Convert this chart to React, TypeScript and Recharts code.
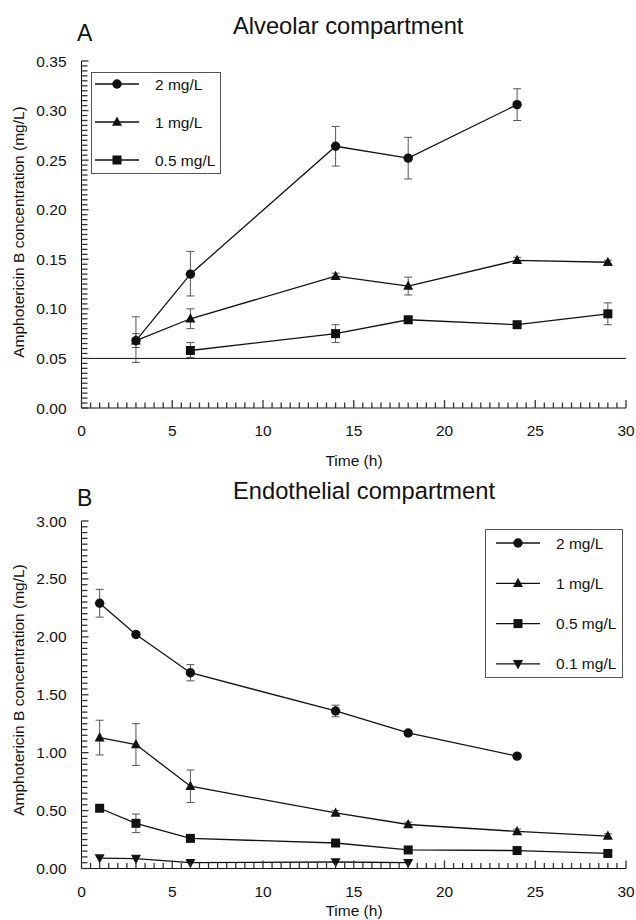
import React from 'react';
import { LineChart, Line, XAxis, YAxis, ErrorBar, ReferenceLine, Legend } from 'recharts';

const FONT = '"Liberation Sans", Arial, Helvetica, sans-serif';

// ---------- Panel A : Alveolar compartment ----------
const alvTimes2 = [3, 6, 14, 18, 24];
const alv2 = [0.068, 0.135, 0.264, 0.252, 0.306];
const alv2Lo = [0.022, 0.022, 0.020, 0.021, 0.016];
const alv2Hi = [0.024, 0.023, 0.020, 0.021, 0.016];

const alvTimes1 = [3, 6, 14, 18, 24, 29];
const alv1 = [0.068, 0.090, 0.133, 0.123, 0.149, 0.147];
const alv1Lo = [0.007, 0.010, 0.003, 0.009, 0.003, 0.002];
const alv1Hi = [0.007, 0.010, 0.003, 0.009, 0.003, 0.002];

const alvTimes05 = [6, 14, 18, 24, 29];
const alv05 = [0.058, 0.075, 0.089, 0.084, 0.095];
const alv05Lo = [0.007, 0.009, 0.003, 0.003, 0.011];
const alv05Hi = [0.008, 0.009, 0.003, 0.003, 0.011];

const alvLimit = 0.05;

// ---------- Panel B : Endothelial compartment ----------
const endTimes2 = [1, 3, 6, 14, 18, 24];
const end2 = [2.29, 2.02, 1.69, 1.36, 1.17, 0.97];
const end2Err = [0.12, 0.02, 0.07, 0.05, 0.02, 0.02];

const endTimes1 = [1, 3, 6, 14, 18, 24, 29];
const end1 = [1.13, 1.07, 0.71, 0.48, 0.38, 0.32, 0.28];
const end1Err = [0.15, 0.18, 0.14, 0.02, 0.02, 0.02, 0.02];

const endTimes05 = [1, 3, 6, 14, 18, 24, 29];
const end05 = [0.52, 0.39, 0.26, 0.22, 0.16, 0.155, 0.13];
const end05Err = [0.02, 0.08, 0.02, 0.02, 0.02, 0.02, 0.02];

const endTimes01 = [1, 3, 6, 14, 18];
const end01 = [0.09, 0.085, 0.05, 0.056, 0.05];

// ---------- Axes ----------
const xMajorTicks = [0, 5, 10, 15, 20, 25, 30];
const xMinorStep = 0.5;
const alvYMajorTicks = [0, 0.05, 0.1, 0.15, 0.2, 0.25, 0.3, 0.35];
const alvYMinorStep = 0.005;
const endYMajorTicks = [0, 0.5, 1.0, 1.5, 2.0, 2.5, 3.0];
const endYMinorStep = 0.05;

const seriesNamesA = ['2 mg/L', '1 mg/L', '0.5 mg/L'];
const seriesNamesB = ['2 mg/L', '1 mg/L', '0.5 mg/L', '0.1 mg/L'];
const shapeByName: Record<string, string> = {
  '2 mg/L': 'circle',
  '1 mg/L': 'up',
  '0.5 mg/L': 'square',
  '0.1 mg/L': 'down',
};

const buildTicks = (majors: number[], step: number) => {
  const max = majors[majors.length - 1];
  const n = Math.round(max / step);
  const out: number[] = [];
  for (let i = 0; i <= n; i++) out.push(Math.round(i * step * 1e6) / 1e6);
  return out;
};

const rows = (ts: number[], vs: number[], lo?: number[], hi?: number[]) =>
  ts.map((t, i) => ({
    t,
    v: vs[i],
    err: lo ? [lo[i], hi ? hi[i] : lo[i]] : undefined,
  }));

const INK = '#111';
const TICK = '#333';

const Marker = ({ shape, cx, cy }: { shape: string; cx: number; cy: number }) => {
  if (shape === 'circle') return <circle cx={cx} cy={cy} r={4.7} fill={INK} />;
  if (shape === 'square') return <rect x={cx - 4.5} y={cy - 4.5} width={9} height={9} fill={INK} />;
  if (shape === 'up')
    return <path d={`M${cx},${cy - 5.5} L${cx + 5},${cy + 3.8} L${cx - 5},${cy + 3.8} Z`} fill={INK} />;
  return <path d={`M${cx},${cy + 5.5} L${cx + 5},${cy - 3.8} L${cx - 5},${cy - 3.8} Z`} fill={INK} />;
};

const renderDot = (shape: string) => (props: any) => {
  const { cx, cy, index } = props;
  if (cx == null || cy == null) return <g key={`e${index}`} />;
  return <Marker key={`d${index}`} shape={shape} cx={cx} cy={cy} />;
};

const isMajor = (majors: number[], v: number) => majors.some((m) => Math.abs(m - v) < 1e-7);

const makeXTick = (majors: number[], margin: number) => (props: any) => {
  const { x, y, payload } = props;
  const v = payload.value;
  const major = isMajor(majors, v);
  const ay = y - margin;
  return (
    <g>
      <line x1={x} x2={x} y1={ay} y2={ay - (major ? 8 : 5.5)} stroke={TICK} strokeWidth={1.3} />
      {major && (
        <text x={x} y={y} dy="0.36em" textAnchor="middle" fontFamily={FONT} fontSize={15.5} fill={INK}>
          {String(v)}
        </text>
      )}
    </g>
  );
};

const makeYTick = (majors: number[], margin: number) => (props: any) => {
  const { x, y, payload } = props;
  const v = payload.value;
  const major = isMajor(majors, v);
  const ax = x + margin;
  return (
    <g>
      <line x1={ax} x2={ax + (major ? 7 : 6)} y1={y} y2={y} stroke={TICK} strokeWidth={1.3} />
      {major && (
        <text x={x} y={y} dy="0.36em" textAnchor="end" fontFamily={FONT} fontSize={15.5} fill={INK}>
          {v.toFixed(2)}
        </text>
      )}
    </g>
  );
};

const makeLegend = (order: string[], w: number, h: number, firstY: number, gap: number, lineX0: number, lineX1: number, textX: number) =>
  (props: any) => {
    const payload: any[] = props.payload || [];
    const items = order.filter((n) => payload.some((p) => p.value === n));
    return (
      <div style={{ width: w, height: h, border: '1px solid #555', boxSizing: 'border-box', background: '#fff', position: 'relative' }}>
        <svg width={w - 2} height={h - 2} style={{ position: 'absolute', left: 0, top: 0 }}>
          {items.map((name, i) => {
            const cy = firstY + i * gap;
            const mx = (lineX0 + lineX1) / 2;
            return (
              <g key={name}>
                <line x1={lineX0} x2={lineX1} y1={cy} y2={cy} stroke={INK} strokeWidth={1.3} />
                <Marker shape={shapeByName[name]} cx={mx} cy={cy} />
                <text x={textX} y={cy} dy="0.36em" fontFamily={FONT} fontSize={15.5} fill={INK}>
                  {name}
                </text>
              </g>
            );
          })}
        </svg>
      </div>
    );
  };

const xTicks = buildTicks(xMajorTicks, xMinorStep);
const alvYTicks = buildTicks(alvYMajorTicks, alvYMinorStep);
const endYTicks = buildTicks(endYMajorTicks, endYMinorStep);

const dataA2 = rows(alvTimes2, alv2, alv2Lo, alv2Hi);
const dataA1 = rows(alvTimes1, alv1, alv1Lo, alv1Hi);
const dataA05 = rows(alvTimes05, alv05, alv05Lo, alv05Hi);

const dataB2 = rows(endTimes2, end2, end2Err);
const dataB1 = rows(endTimes1, end1, end1Err);
const dataB05 = rows(endTimes05, end05, end05Err);
const dataB01 = rows(endTimes01, end01);

const ERR = { stroke: '#555', strokeWidth: 1, width: 4 };

const PanelA = () => (
  <LineChart width={636} height={475} margin={{ top: 61, right: 10, bottom: 0, left: 0 }}>
    <XAxis
      dataKey="t"
      type="number"
      domain={[0, 30]}
      ticks={xTicks}
      interval={0}
      tickSize={0}
      tickMargin={22}
      tickLine={false}
      tick={makeXTick(xMajorTicks, 22)}
      axisLine={{ stroke: INK }}
      height={67}
      allowDecimals
    />
    <XAxis xAxisId="top" orientation="top" type="number" domain={[0, 30]} tick={false} tickLine={false} height={0} axisLine={{ stroke: '#444' }} />
    <YAxis
      type="number"
      domain={[0, 0.35]}
      ticks={alvYTicks}
      interval={0}
      tickSize={0}
      tickMargin={15}
      tickLine={false}
      tick={makeYTick(alvYMajorTicks, 15)}
      axisLine={{ stroke: INK }}
      width={81.5}
    />
    <YAxis yAxisId="right" orientation="right" type="number" domain={[0, 0.35]} tick={false} tickLine={false} width={0} axisLine={{ stroke: '#444' }} />
    <ReferenceLine y={alvLimit} stroke={INK} strokeWidth={1} />
    <Line data={dataA2} dataKey="v" name="2 mg/L" stroke={INK} strokeWidth={1.3} dot={renderDot('circle')} activeDot={false} isAnimationActive={false}>
      <ErrorBar dataKey="err" direction="y" {...ERR} />
    </Line>
    <Line data={dataA1} dataKey="v" name="1 mg/L" stroke={INK} strokeWidth={1.3} dot={renderDot('up')} activeDot={false} isAnimationActive={false}>
      <ErrorBar dataKey="err" direction="y" {...ERR} />
    </Line>
    <Line data={dataA05} dataKey="v" name="0.5 mg/L" stroke={INK} strokeWidth={1.3} dot={renderDot('square')} activeDot={false} isAnimationActive={false}>
      <ErrorBar dataKey="err" direction="y" {...ERR} />
    </Line>
    <Legend
      layout="vertical"
      align="center"
      verticalAlign="middle"
      wrapperStyle={{ left: 91, top: 72, width: 130, height: 102 }}
      content={makeLegend(seriesNamesA, 130, 102, 11, 38, 3, 47, 63)}
    />
  </LineChart>
);

const PanelB = () => (
  <LineChart width={636} height={445} margin={{ top: 46, right: 10, bottom: 0, left: 0 }}>
    <XAxis
      dataKey="t"
      type="number"
      domain={[0, 30]}
      ticks={xTicks}
      interval={0}
      tickSize={0}
      tickMargin={23}
      tickLine={false}
      tick={makeXTick(xMajorTicks, 23)}
      axisLine={{ stroke: INK }}
      height={51.5}
      allowDecimals
    />
    <XAxis xAxisId="top" orientation="top" type="number" domain={[0, 30]} tick={false} tickLine={false} height={0} axisLine={{ stroke: '#444' }} />
    <YAxis
      type="number"
      domain={[0, 3]}
      ticks={endYTicks}
      interval={0}
      tickSize={0}
      tickMargin={15}
      tickLine={false}
      tick={makeYTick(endYMajorTicks, 15)}
      axisLine={{ stroke: INK }}
      width={81.5}
    />
    <YAxis yAxisId="right" orientation="right" type="number" domain={[0, 3]} tick={false} tickLine={false} width={0} axisLine={{ stroke: '#444' }} />
    <Line data={dataB2} dataKey="v" name="2 mg/L" stroke={INK} strokeWidth={1.3} dot={renderDot('circle')} activeDot={false} isAnimationActive={false}>
      <ErrorBar dataKey="err" direction="y" {...ERR} />
    </Line>
    <Line data={dataB1} dataKey="v" name="1 mg/L" stroke={INK} strokeWidth={1.3} dot={renderDot('up')} activeDot={false} isAnimationActive={false}>
      <ErrorBar dataKey="err" direction="y" {...ERR} />
    </Line>
    <Line data={dataB05} dataKey="v" name="0.5 mg/L" stroke={INK} strokeWidth={1.3} dot={renderDot('square')} activeDot={false} isAnimationActive={false}>
      <ErrorBar dataKey="err" direction="y" {...ERR} />
    </Line>
    <Line data={dataB01} dataKey="v" name="0.1 mg/L" stroke={INK} strokeWidth={1.3} dot={renderDot('down')} activeDot={false} isAnimationActive={false} />
    <Legend
      layout="vertical"
      align="center"
      verticalAlign="middle"
      wrapperStyle={{ left: 485, top: 54, width: 138, height: 149 }}
      content={makeLegend(seriesNamesB, 138, 149, 13, 40.3, 10, 54, 70)}
    />
  </LineChart>
);

export default function App() {
  return (
    <div style={{ position: 'absolute', left: 0, top: 0, width: 636, height: 920, background: '#fff', fontFamily: FONT }}>
      <div style={{ position: 'absolute', left: 0, top: 0 }}>
        <PanelA />
      </div>
      <div style={{ position: 'absolute', left: 0, top: 475 }}>
        <PanelB />
      </div>
      <svg width={636} height={920} style={{ position: 'absolute', left: 0, top: 0, pointerEvents: 'none' }}>
        <text x={77} y={41} fontFamily={FONT} fontSize={23} fill={INK}>A</text>
        <text x={233} y={34} fontFamily={FONT} fontSize={23.7} fill={INK}>Alveolar compartment</text>
        <text x={354} y={466} textAnchor="middle" fontFamily={FONT} fontSize={15.5} fill={INK}>Time (h)</text>
        <text transform="translate(24,232) rotate(-90)" textAnchor="middle" fontFamily={FONT} fontSize={15.5} fill={INK}>
          Amphotericin B concentration (mg/L)
        </text>
        <text x={77} y={506} fontFamily={FONT} fontSize={23} fill={INK}>B</text>
        <text x={233} y={499} fontFamily={FONT} fontSize={23.7} fill={INK}>Endothelial compartment</text>
        <text x={354} y={916} textAnchor="middle" fontFamily={FONT} fontSize={15.5} fill={INK}>Time (h)</text>
        <text transform="translate(24,690) rotate(-90)" textAnchor="middle" fontFamily={FONT} fontSize={15.5} fill={INK}>
          Amphotericin B concentration (mg/L)
        </text>
      </svg>
    </div>
  );
}
